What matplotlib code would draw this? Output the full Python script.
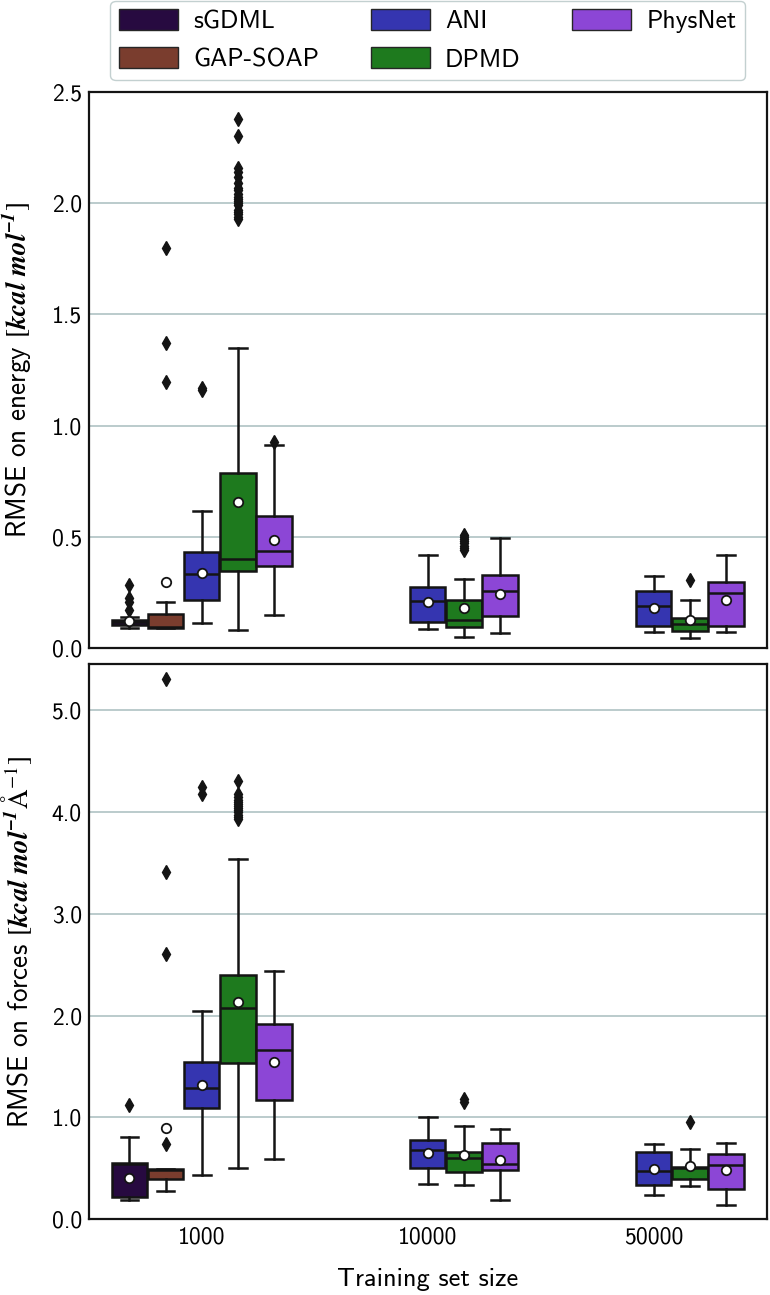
import numpy as np
import matplotlib
matplotlib.use('Agg')
import matplotlib.pyplot as plt
from matplotlib.patches import Patch
from matplotlib.ticker import FormatStrFormatter, MultipleLocator

plt.rcParams['font.family'] = ['cmss10', 'DejaVu Sans']
plt.rcParams['mathtext.fontset'] = 'stix'
plt.rcParams['axes.unicode_minus'] = False

models = ['sGDML', 'GAP-SOAP', 'ANI', 'DPMD', 'PhysNet']
sizes = ['1000', '10000', '50000']
colors = ['#270a40', '#7a3d2e', '#3535b0', '#1e7a1e', '#8c46d6']

# energy RMSE, rows = models, cols = training set sizes (None = not trained)
e_q1 = [[0.105, None, None], [0.092, None, None], [0.216, 0.118, 0.099],
        [0.346, 0.096, 0.076], [0.370, 0.144, 0.100]]
e_med = [[0.115, None, None], [0.095, None, None], [0.331, 0.212, 0.190],
         [0.400, 0.126, 0.106], [0.437, 0.255, 0.246]]
e_q3 = [[0.127, None, None], [0.153, None, None], [0.433, 0.275, 0.255],
        [0.789, 0.216, 0.135], [0.593, 0.326, 0.295]]
e_lo = [[0.091, None, None], [0.090, None, None], [0.111, 0.084, 0.070],
        [0.079, 0.048, 0.046], [0.147, 0.069, 0.070]]
e_hi = [[0.140, None, None], [0.205, None, None], [0.615, 0.419, 0.322],
        [1.348, 0.311, 0.214], [0.911, 0.495, 0.419]]
e_mean = [[0.120, None, None], [0.295, None, None], [0.338, 0.205, 0.180],
          [0.657, 0.180, 0.126], [0.484, 0.242, 0.216]]
e_out = [[[0.285, 0.225, 0.205, 0.17], [], []],
         [[1.80, 1.37, 1.195], [], []],
         [[1.17, 1.16], [], []],
         [[2.38, 2.30, 2.16, 2.14, 2.12, 2.09, 2.07, 2.06, 2.04, 2.03, 2.02,
           2.01, 2.00, 1.99, 1.97, 1.96, 1.95, 1.94, 1.93],
          [0.51, 0.50, 0.49, 0.48, 0.47, 0.46, 0.45, 0.44], [0.305]],
         [[0.925], [], []]]

# force RMSE
f_q1 = [[0.219, None, None], [0.400, None, None], [1.092, 0.503, 0.340],
        [1.534, 0.467, 0.395], [1.171, 0.481, 0.297]]
f_med = [[0.540, None, None], [0.480, None, None], [1.292, 0.680, 0.474],
         [2.070, 0.605, 0.503], [1.662, 0.546, 0.536]]
f_q3 = [[0.556, None, None], [0.495, None, None], [1.541, 0.775, 0.657],
        [2.397, 0.664, 0.516], [1.914, 0.752, 0.644]]
f_lo = [[0.186, None, None], [0.281, None, None], [0.438, 0.346, 0.235],
        [0.500, 0.337, 0.327], [0.595, 0.192, 0.137]]
f_hi = [[0.805, None, None], [0.495, None, None], [2.044, 1.004, 0.739],
        [3.533, 0.919, 0.693], [2.437, 0.886, 0.746]]
f_mean = [[0.408, None, None], [0.893, None, None], [1.315, 0.647, 0.494],
          [2.135, 0.631, 0.526], [1.544, 0.585, 0.481]]
f_out = [[[1.125], [], []],
         [[5.30, 3.41, 2.60, 0.735], [], []],
         [[4.245, 4.175], [], []],
         [[4.30, 4.17, 4.14, 4.12, 4.10, 4.08, 4.06, 4.04, 4.02, 4.00, 3.97,
           3.95, 3.93], [1.18, 1.15], [0.955]],
         [[], [], []]]

W, H = 770, 1295
fig = plt.figure(figsize=(W / 100, H / 100), dpi=100)
ax1 = fig.add_axes([88.7 / W, 1 - 648 / H, 678 / W, 556 / H])
ax2 = fig.add_axes([88.7 / W, 1 - 1219.3 / H, 678 / W, 555.3 / H])

n = len(models)
box_w = 0.8 / n * 0.98
grid_col = '#afc2c4'
edge = '0.08'


def draw(ax, q1, med, q3, lo, hi, mean, out):
    for j in range(n):
        for i in range(len(sizes)):
            if med[j][i] is None:
                continue
            st = dict(q1=q1[j][i], med=med[j][i], q3=q3[j][i],
                      whislo=lo[j][i], whishi=hi[j][i], mean=mean[j][i],
                      fliers=out[j][i])
            pos = i - 0.4 + 0.8 / n * (j + 0.5)
            ax.bxp([st], positions=[pos], widths=box_w, capwidths=box_w * 0.5,
                   patch_artist=True, showmeans=True, manage_ticks=False,
                   boxprops=dict(facecolor=colors[j], edgecolor=edge, lw=1.8),
                   medianprops=dict(color=edge, lw=1.8),
                   whiskerprops=dict(color=edge, lw=1.8),
                   capprops=dict(color=edge, lw=1.8),
                   meanprops=dict(marker='o', markerfacecolor='white',
                                  markeredgecolor=edge, markersize=6.8,
                                  markeredgewidth=1.3),
                   flierprops=dict(marker='d', markerfacecolor=edge,
                                   markeredgecolor=edge, markersize=7.5))
    ax.set_xlim(-0.5, len(sizes) - 0.5)
    ax.set_axisbelow(True)
    ax.yaxis.grid(True, color=grid_col, lw=1.2)
    ax.tick_params(length=0, labelsize=17, pad=5)
    ax.yaxis.set_major_formatter(FormatStrFormatter('%.1f'))
    for s in ax.spines.values():
        s.set_linewidth(1.6)
        s.set_color(edge)


draw(ax1, e_q1, e_med, e_q3, e_lo, e_hi, e_mean, e_out)
draw(ax2, f_q1, f_med, f_q3, f_lo, f_hi, f_mean, f_out)

ax1.set_ylim(0, 2.5)
ax1.yaxis.set_major_locator(MultipleLocator(0.5))
ax1.set_xticks(range(len(sizes)))
ax1.set_xticklabels([])
ax2.set_ylim(0, 5.45)
ax2.yaxis.set_major_locator(MultipleLocator(1.0))
ax2.set_xticks(range(len(sizes)))
ax2.set_xticklabels(sizes)

ax1.set_ylabel(r'RMSE on energy $[\mathbfit{kcal\ mol^{-1}}]$', fontsize=19.5)
ax2.set_ylabel(r'RMSE on forces $[\mathbfit{kcal\ mol^{-1}}\mathrm{\AA}^{-1}]$',
               fontsize=19.5)
ax1.yaxis.set_label_coords(-0.08, 0.5)
ax2.yaxis.set_label_coords(-0.08, 0.5)
ax2.set_xlabel('Training set size', fontsize=19, labelpad=14)

handles = [Patch(facecolor=c, edgecolor='0.15', lw=1) for c in colors]
ax1.legend(handles, models, ncol=3, loc='lower center',
           bbox_to_anchor=(0.5, 1.022), fontsize=18.5, frameon=True,
           fancybox=True, edgecolor='#c3d0d0', framealpha=1,
           borderaxespad=0, handlelength=2.3, handleheight=0.85,
           handletextpad=0.6, columnspacing=2.0, labelspacing=0.55,
           borderpad=0.32)

fig.savefig('out.png', dpi=100)
